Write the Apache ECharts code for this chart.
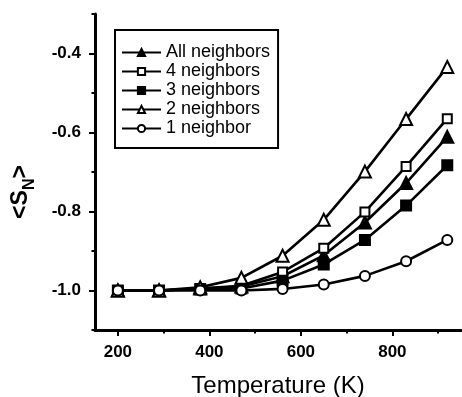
<!DOCTYPE html>
<html>
<head>
<meta charset="utf-8">
<script src="https://cdn.jsdelivr.net/npm/echarts@6/dist/echarts.min.js"></script>
<style>
  html, body { margin: 0; padding: 0; background: #fff; }
  #chart { width: 462px; height: 397px; }
</style>
</head>
<body>
<div id="chart"></div>
<script>
// temperatures (K)
var temps = [200, 290, 380, 470, 560, 650, 740, 830, 920];

// <S_N> per neighbour count
var allNeighbors = [-1.0, -1.0, -0.995, -0.99, -0.964, -0.911, -0.828, -0.728, -0.611];
var fourNeighbors = [-1.0, -1.0, -0.995, -0.988, -0.953, -0.893, -0.801, -0.686, -0.565];
var threeNeighbors = [-1.0, -1.0, -0.997, -0.995, -0.975, -0.934, -0.872, -0.785, -0.683];
var twoNeighbors = [-1.0, -1.0, -0.992, -0.968, -0.912, -0.821, -0.699, -0.566, -0.434];
var oneNeighbor = [-1.0, -1.0, -1.0, -1.0, -0.996, -0.985, -0.963, -0.926, -0.872];

var xMajor = [200, 400, 600, 800];
var xMinor = [300, 500, 700, 900];
var yMajor = [-1.0, -0.8, -0.6, -0.4];
var yMinor = [-1.1, -0.9, -0.7, -0.5, -0.3];

var legendNames = ['All neighbors', '4 neighbors', '3 neighbors', '2 neighbors', '1 neighbor'];

function pairs(vals){
	var out = [];
	for(var i=0; i<temps.length; i++){
		out.push([temps[i], vals[i]]);
	}
	return out;
}

function makeSeries(name, vals, symbol, size, filled){
	return {
		name: name,
		type: 'line',
		data: pairs(vals),
		symbol: symbol,
		symbolSize: size,
		showAllSymbol: true,
		lineStyle: { color: '#000', width: 2.6 },
		itemStyle: {
			color: filled ? '#000' : '#fff',
			borderColor: '#000',
			borderWidth: 2
		},
		emphasis: { disabled: true },
		animation: false
	};
}

var chart = echarts.init(document.getElementById('chart'));

var axisFont = { fontFamily: 'Liberation Sans', fontWeight: 'bold', fontSize: 17, color: '#000' };

var options = {
	backgroundColor: '#fff',
	animation: false,
	grid: { left: 95, right: 1, top: 14, bottom: 67, containLabel: false, outerBoundsMode: 'none' },
	legend: {
		data: legendNames,
		orient: 'vertical',
		left: 115,
		top: 30,
		padding: [13, 8, 10, 6],
		itemWidth: 39,
		itemHeight: 9,
		itemGap: 0,
		borderColor: '#000',
		borderWidth: 2,
		backgroundColor: '#fff',
		selectedMode: false,
		textStyle: { fontFamily: 'Liberation Sans', fontSize: 18, color: '#000', lineHeight: 19 }
	},
	xAxis: [{
		type: 'value',
		min: 150,
		max: 950,
		name: 'Temperature (K)',
		nameLocation: 'middle',
		nameGap: 44,
		nameTextStyle: { fontFamily: 'Liberation Sans', fontSize: 24, color: '#000' },
		axisLine: { lineStyle: { color: '#000', width: 3 } },
		axisTick: { show: true, customValues: xMajor, length: 6, lineStyle: { color: '#000', width: 2 } },
		axisLabel: Object.assign({ customValues: xMajor, margin: 14 }, axisFont),
		splitLine: { show: false }
	}, {
		type: 'value',
		min: 150,
		max: 950,
		position: 'bottom',
		axisLine: { show: false },
		axisTick: { show: true, customValues: xMinor, length: 3.5, lineStyle: { color: '#000', width: 2 } },
		axisLabel: { show: false },
		splitLine: { show: false }
	}],
	yAxis: [{
		type: 'value',
		min: -1.1,
		max: -0.3,
		name: '{m|<S}{s|N}{m|>}',
		nameLocation: 'middle',
		nameGap: 57,
		nameTextStyle: {
			padding: [0, 40, 0, 0],
			rich: {
				m: { fontFamily: 'Liberation Sans', fontWeight: 'bold', fontSize: 23, color: '#000' },
				s: { fontFamily: 'Liberation Sans', fontWeight: 'bold', fontSize: 16, color: '#000', padding: [18, 0, 0, 0] }
			}
		},
		axisLine: { lineStyle: { color: '#000', width: 3 } },
		axisTick: { show: true, customValues: yMajor, length: 6, lineStyle: { color: '#000', width: 2 } },
		axisLabel: Object.assign({
			customValues: yMajor,
			margin: 14,
			formatter: function(v){ return v.toFixed(1); }
		}, axisFont),
		splitLine: { show: false }
	}, {
		type: 'value',
		min: -1.1,
		max: -0.3,
		position: 'left',
		axisLine: { show: false },
		axisTick: { show: true, customValues: yMinor, length: 3.5, lineStyle: { color: '#000', width: 2 } },
		axisLabel: { show: false },
		splitLine: { show: false }
	}],
	series: [
		makeSeries('All neighbors', allNeighbors, 'triangle', 12, true),
		makeSeries('4 neighbors', fourNeighbors, 'rect', 9, false),
		makeSeries('3 neighbors', threeNeighbors, 'rect', 10, true),
		makeSeries('2 neighbors', twoNeighbors, 'triangle', 12, false),
		makeSeries('1 neighbor', oneNeighbor, 'circle', 10, false)
	]
};

chart.setOption(options);

window.onresize = function(){
	chart.resize();
};
</script>
</body>
</html>
